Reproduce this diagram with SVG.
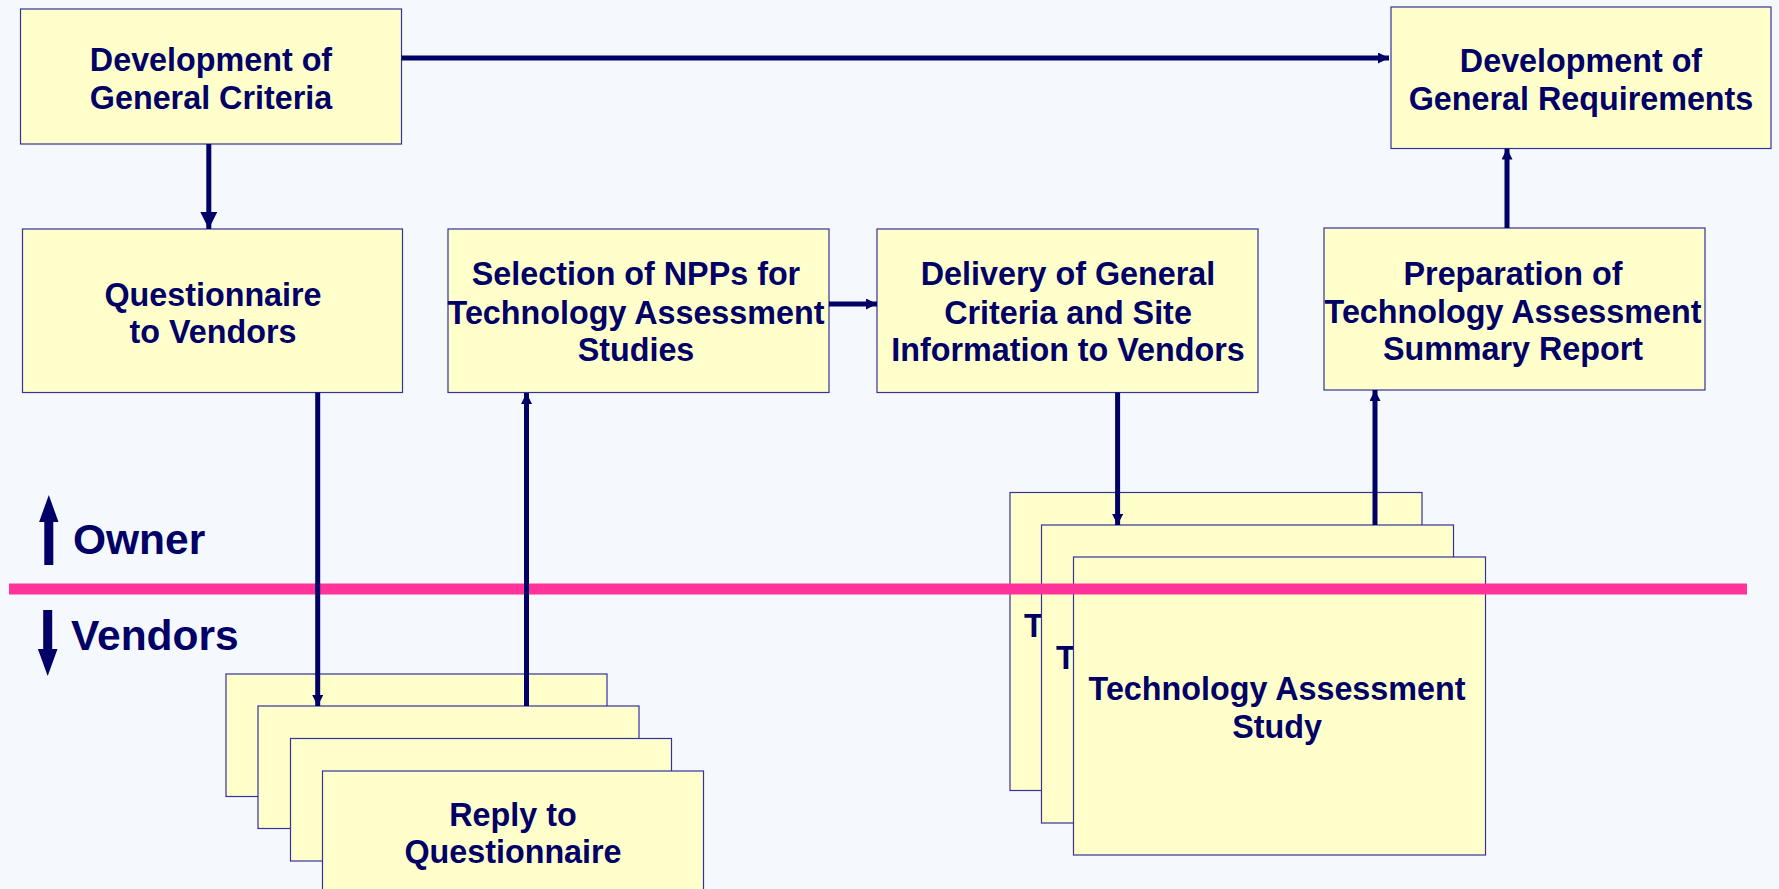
<svg xmlns="http://www.w3.org/2000/svg" width="1779" height="889" viewBox="0 0 1779 889">
<style>
.box{fill:#FFFFCC;stroke:#333399;stroke-width:1.2}
.t{font-family:"Liberation Sans",Arial,sans-serif;font-weight:bold;font-size:32.3px;fill:#000066;text-anchor:middle}
.big{font-family:"Liberation Sans",Arial,sans-serif;font-weight:bold;font-size:42.5px;fill:#000066}
.c{fill:none;stroke:#000066;stroke-width:5}
</style>
<defs>
<marker id="ah" viewBox="0 0 10 10" refX="10" refY="5" markerWidth="12" markerHeight="11" markerUnits="userSpaceOnUse" orient="auto">
<path d="M0,0 L10,5 L0,10 z" fill="#000066"/>
</marker>
<marker id="ahb" viewBox="0 0 10 10" refX="10" refY="5" markerWidth="19" markerHeight="17" markerUnits="userSpaceOnUse" orient="auto">
<path d="M0,0 L10,5 L0,10 z" fill="#000066"/>
</marker>
</defs>
<rect x="0" y="0" width="1779" height="889" fill="#F5F8FD"/>

<g id="dev-general-criteria">
<rect class="box" x="20.5" y="9" width="381" height="135"/>
<text class="t" x="211" y="70.5">Development of</text>
<text class="t" x="211" y="109">General Criteria</text>
</g>
<g id="questionnaire">
<rect class="box" x="22.5" y="229" width="380" height="163.5"/>
<text class="t" x="213" y="305.5">Questionnaire</text>
<text class="t" x="213" y="342.5">to Vendors</text>
</g>
<g id="selection">
<rect class="box" x="448" y="229" width="381" height="163.5"/>
<text class="t" x="636" y="285">Selection of NPPs for</text>
<text class="t" x="636" y="323.5">Technology Assessment</text>
<text class="t" x="636" y="361">Studies</text>
</g>
<g id="delivery">
<rect class="box" x="877" y="229" width="381" height="163.5"/>
<text class="t" x="1068" y="285">Delivery of General</text>
<text class="t" x="1068" y="323.5">Criteria and Site</text>
<text class="t" x="1068" y="361">Information to Vendors</text>
</g>
<g id="preparation">
<rect class="box" x="1324" y="228" width="381" height="162"/>
<text class="t" x="1513" y="284.5">Preparation of</text>
<text class="t" x="1513" y="322.5">Technology Assessment</text>
<text class="t" x="1513" y="359.5">Summary Report</text>
</g>
<g id="dev-general-requirements">
<rect class="box" x="1391" y="7" width="380" height="141.5"/>
<text class="t" x="1581" y="71.5">Development of</text>
<text class="t" x="1581" y="110">General Requirements</text>
</g>

<g id="reply-stack">
<rect class="box" x="226" y="674" width="381" height="122.5"/>
<rect class="box" x="258" y="706" width="381" height="122.5"/>
<rect class="box" x="290.5" y="738.5" width="381" height="122.5"/>
<rect class="box" x="322.5" y="771" width="381" height="140"/>
<text class="t" x="513" y="825.5">Reply to</text>
<text class="t" x="513" y="863">Questionnaire</text>
</g>

<g id="ta-stack">
<rect class="box" x="1010" y="492.5" width="412" height="298"/>
<text class="t" x="1024" y="636.5" style="text-anchor:start">T</text>
<rect class="box" x="1041.5" y="525" width="412" height="298"/>
<text class="t" x="1056" y="668.5" style="text-anchor:start">T</text>
<rect class="box" x="1073.5" y="557" width="412" height="298"/>
<text class="t" x="1277" y="700">Technology Assessment</text>
<text class="t" x="1277" y="737.5">Study</text>
</g>

<g id="owner-vendors">
<polygon points="48.8,495 58.5,522 53.3,522 53.3,565 44.3,565 44.3,522 39.1,522" fill="#000066"/>
<text class="big" x="73" y="554">Owner</text>
<polygon points="43.2,610 52.2,610 52.2,649 57.5,649 47.7,676 37.9,649 43.2,649" fill="#000066"/>
<text class="big" x="71" y="650">Vendors</text>
</g>

<line id="boundary" x1="9" y1="589" x2="1747" y2="589" stroke="#FF3399" stroke-width="11"/>

<g id="connectors">
<path class="c" d="M401.6,58 H1389" marker-end="url(#ah)"/>
<path class="c" d="M208.8,144 V229" marker-end="url(#ahb)"/>
<path class="c" d="M317.7,392.6 V706" marker-end="url(#ah)"/>
<path class="c" d="M526.5,706 V393" marker-end="url(#ah)"/>
<path class="c" d="M829,304 H877" marker-end="url(#ah)"/>
<path class="c" d="M1117.6,392.6 V525" marker-end="url(#ah)"/>
<path class="c" d="M1375,525 V390" marker-end="url(#ah)"/>
<path class="c" d="M1507,228 V148.6" marker-end="url(#ah)"/>
</g>
</svg>
